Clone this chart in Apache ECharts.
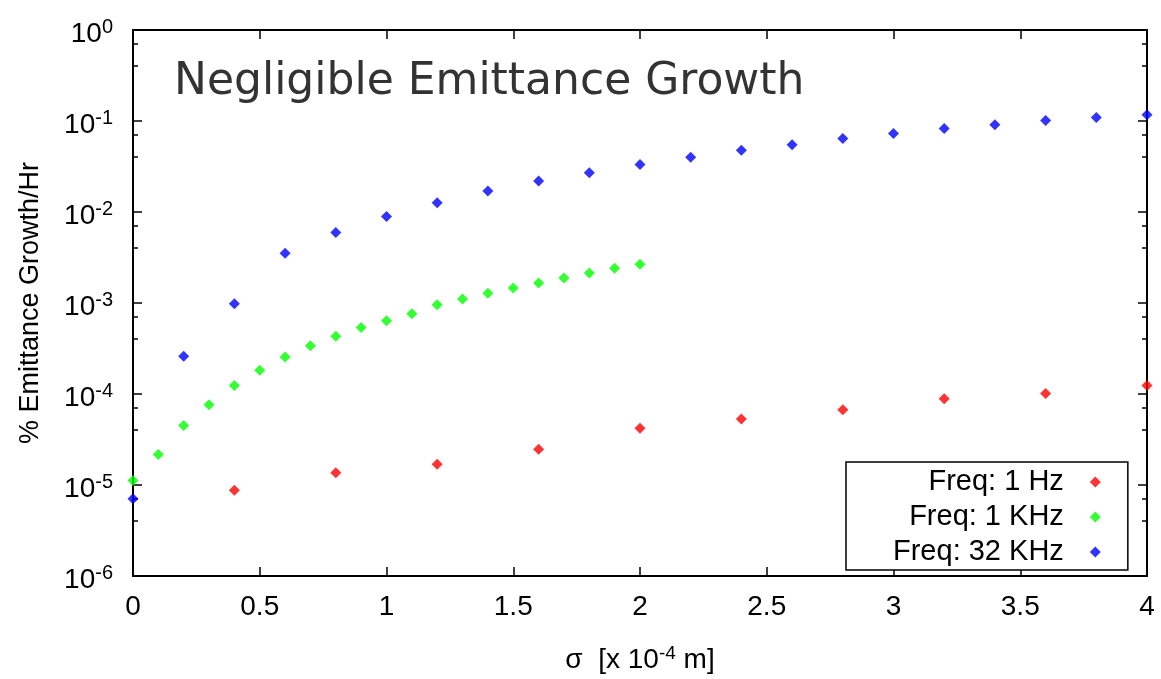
<!DOCTYPE html>
<html>
<head>
    <meta charset="utf-8">
    <title>Negligible Emittance Growth</title>
    <script src="https://cdn.jsdelivr.net/npm/echarts@6/dist/echarts.min.js"></script>
    <style>
        body { margin: 0; background: #fff; }
    </style>
</head>
<body>
    <div id="main" style="width: 1161px;height:679px;"></div>
    <script type="text/javascript">
        // data
        var seriesNames = ['Freq: 1 Hz', 'Freq: 1 KHz', 'Freq: 32 KHz'];

        var hzX = [0.4, 0.8, 1.2, 1.6, 2.0, 2.4, 2.8, 3.2, 3.6, 4.0];
        var hzY = [8.75e-6, 1.36e-5, 1.69e-5, 2.47e-5, 4.2e-5, 5.3e-5, 6.7e-5, 8.85e-5, 1.01e-4, 1.24e-4];

        var khzX = [0, 0.1, 0.2, 0.3, 0.4, 0.5, 0.6, 0.7, 0.8, 0.9, 1.0,
                    1.1, 1.2, 1.3, 1.4, 1.5, 1.6, 1.7, 1.8, 1.9, 2.0];
        var khzY = [1.12e-5, 2.16e-5, 4.5e-5, 7.6e-5, 1.24e-4, 1.82e-4, 2.55e-4, 3.4e-4, 4.32e-4, 5.37e-4, 6.4e-4,
                    7.6e-4, 9.55e-4, 1.11e-3, 1.28e-3, 1.46e-3, 1.66e-3, 1.88e-3, 2.13e-3, 2.41e-3, 2.67e-3];

        var k32X = [0, 0.2, 0.4, 0.6, 0.8, 1.0, 1.2, 1.4, 1.6, 1.8, 2.0,
                    2.2, 2.4, 2.6, 2.8, 3.0, 3.2, 3.4, 3.6, 3.8, 4.0];
        var k32Y = [7.05e-6, 2.6e-4, 9.8e-4, 3.52e-3, 5.96e-3, 8.9e-3, 1.26e-2, 1.7e-2, 2.19e-2, 2.7e-2, 3.33e-2,
                    4.0e-2, 4.76e-2, 5.5e-2, 6.44e-2, 7.3e-2, 8.26e-2, 9.1e-2, 0.101, 0.109, 0.117];

        var xTicks = [0, 0.5, 1, 1.5, 2, 2.5, 3, 3.5, 4];
        var yMin = 1e-6, yMax = 1;

        function pairs(xs, ys) {
            return xs.map(function (x, i) { return [x, ys[i]]; });
        }

        var myChart = echarts.init(document.getElementById('main'));

        var font = 'Liberation Sans, Arial, sans-serif';

        var baseX = {
            type: 'value',
            min: xTicks[0],
            max: xTicks[xTicks.length - 1],
            interval: 0.5,
            axisLine: { show: true, onZero: false, lineStyle: { color: '#000', width: 2 } },
            axisTick: { show: true, inside: true, length: 9, lineStyle: { color: '#000', width: 1.5 } },
            splitLine: { show: false }
        };
        var baseY = {
            type: 'log',
            logBase: 10,
            min: yMin,
            max: yMax,
            axisLine: { show: true, onZero: false, lineStyle: { color: '#000', width: 2 } },
            axisTick: { show: true, inside: true, length: 9, lineStyle: { color: '#000', width: 1.5 } },
            minorTick: { show: true, splitNumber: 3, length: 5, lineStyle: { color: '#000', width: 1.5 } },
            splitLine: { show: false }
        };

        var option = {
            animation: false,
            backgroundColor: '#fff',
            grid: { left: 133, right: 14, top: 30, bottom: 98, containLabel: false },
            title: {
                text: 'Negligible Emittance Growth',
                left: 169, top: 56,
                textStyle: { fontFamily: 'DejaVu Sans', fontSize: 44, fontWeight: 'normal', color: '#333' }
            },
            legend: {
                orient: 'vertical',
                left: 846, top: 462,
                align: 'right',
                padding: [5, 27, 3, 47],
                itemGap: 5,
                itemWidth: 11, itemHeight: 11,
                backgroundColor: '#fff',
                borderColor: '#000',
                borderWidth: 1.5,
                borderRadius: 0,
                icon: 'diamond',
                data: seriesNames,
                textStyle: { fontFamily: font, fontSize: 29, color: '#000', lineHeight: 30, padding: [0, 21, 0, 0] }
            },
            xAxis: [
                Object.assign({}, baseX, {
                    position: 'bottom',
                    name: '{n|σ  [x 10}{s|-4}{n| m]}',
                    nameLocation: 'middle',
                    nameGap: 66,
                    nameTextStyle: {
                        rich: {
                            n: { fontFamily: font, fontSize: 28, color: '#000', lineHeight: 30, padding: [6, 0, 0, 0] },
                            s: { fontFamily: font, fontSize: 19, color: '#000', lineHeight: 30, padding: [0, 0, 6, 0] }
                        }
                    },
                    axisLabel: {
                        fontFamily: font, fontSize: 28, color: '#000', margin: 17,
                        formatter: function (v) { return String(v); }
                    }
                }),
                Object.assign({}, baseX, { position: 'top', axisLabel: { show: false } })
            ],
            yAxis: [
                Object.assign({}, baseY, {
                    position: 'left',
                    name: '% Emittance Growth/Hr',
                    nameLocation: 'middle',
                    nameGap: 89,
                    nameTextStyle: { fontFamily: font, fontSize: 27, color: '#000' },
                    axisLabel: {
                        margin: 20,
                        formatter: function (v) {
                            var e = Math.round(Math.log10(v));
                            return '{b|10}{s|' + e + '}';
                        },
                        rich: {
                            b: { fontFamily: font, fontSize: 28, color: '#000', lineHeight: 32, padding: [8, 0, 0, 0] },
                            s: { fontFamily: font, fontSize: 20, color: '#000', lineHeight: 32, padding: [0, 0, 6, 0] }
                        }
                    }
                }),
                Object.assign({}, baseY, { position: 'right', axisLabel: { show: false } })
            ],
            series: [
                {
                    name: seriesNames[0], type: 'scatter', symbol: 'diamond', symbolSize: 11,
                    itemStyle: { color: '#ff0000' }, data: pairs(hzX, hzY)
                },
                {
                    name: seriesNames[1], type: 'scatter', symbol: 'diamond', symbolSize: 11,
                    itemStyle: { color: '#00ff00' }, data: pairs(khzX, khzY)
                },
                {
                    name: seriesNames[2], type: 'scatter', symbol: 'diamond', symbolSize: 11,
                    itemStyle: { color: '#0000ff' }, data: pairs(k32X, k32Y)
                }
            ]
        };

        myChart.setOption(option);
    </script>
</body>
</html>
